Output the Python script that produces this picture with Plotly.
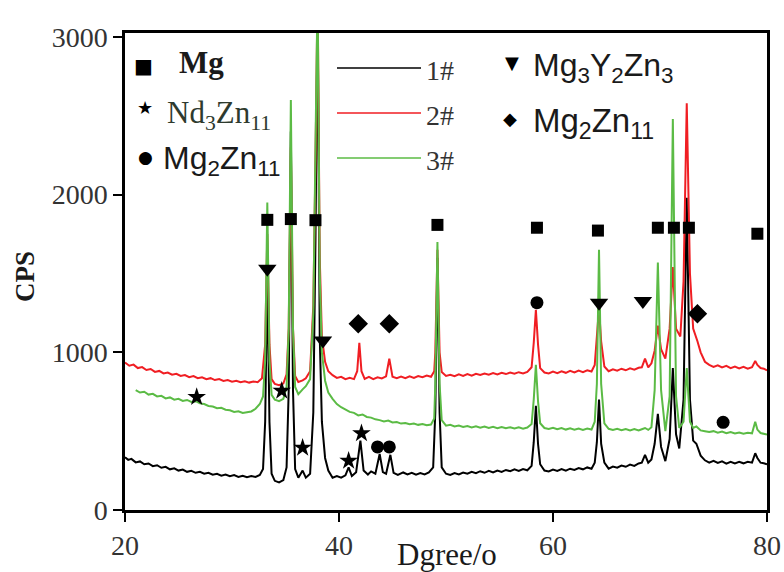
import plotly.graph_objects as go

# ---------------- data ----------------
deg_1 = [20.0,20.3,20.6,21.0,21.4,21.8,22.2,22.6,23.0,23.4,23.8,24.2,24.6,25.0,25.4,25.8,26.2,26.6,27.0,27.4,
         27.8,28.2,28.6,29.0,29.4,29.8,30.2,30.6,31.0,31.4,31.8,32.2,32.6,32.9,33.1,33.3,33.5,33.7,34.0,34.4,
         34.8,35.1,35.3,35.5,35.7,35.9,36.2,36.6,36.9,37.3,37.6,37.8,38.0,38.2,38.4,38.7,39.0,39.4,39.8,40.2,
         40.6,40.9,41.2,41.6,42.0,42.3,42.7,43.0,43.4,43.8,44.1,44.4,44.8,45.1,45.5,46.0,46.4,46.8,47.2,47.6,
         48.0,48.4,48.8,49.0,49.2,49.4,49.6,50.0,50.4,50.8,51.2,51.6,52.0,52.4,52.8,53.2,53.6,54.0,54.4,54.8,
         55.2,55.6,56.0,56.4,56.8,57.2,57.6,58.0,58.2,58.4,58.6,58.8,59.2,59.6,60.0,60.4,60.8,61.2,61.6,62.0,
         62.4,62.8,63.2,63.6,63.9,64.1,64.3,64.5,64.8,65.2,65.6,66.0,66.4,66.8,67.2,67.6,68.0,68.3,68.6,68.9,
         69.2,69.5,69.8,70.1,70.5,70.9,71.2,71.5,71.8,72.2,72.5,72.8,73.1,73.4,73.8,74.2,74.6,75.0,75.4,75.8,
         76.2,76.6,77.0,77.4,77.8,78.2,78.6,78.9,79.1,79.4,79.7,80.0]
cps_1 = [335,318,324,302,308,290,295,278,284,268,274,258,264,250,256,242,248,236,242,230,
         236,224,230,218,225,214,221,210,217,208,215,210,222,260,560,1500,560,230,185,175,
         190,270,760,2400,760,260,205,250,205,230,620,1700,3200,1100,560,330,250,205,215,205,
         220,270,215,240,440,250,225,245,230,355,240,230,350,235,222,238,226,236,224,234,
         226,238,270,620,1600,620,270,230,222,234,226,238,230,242,234,246,236,248,238,250,
         242,254,246,258,248,260,252,280,430,660,420,290,250,244,256,248,260,250,262,254,
         266,258,270,262,300,430,700,420,300,262,275,268,282,274,288,280,295,300,350,300,
         320,420,610,400,310,450,900,480,390,700,1980,700,440,420,345,315,300,312,298,308,
         294,306,295,305,296,306,300,360,330,300,296,290]

deg_2 = [20.0,20.4,20.8,21.2,21.6,22.0,22.4,22.8,23.2,23.6,24.0,24.4,24.8,25.2,25.6,26.0,26.4,26.8,27.2,27.6,
         28.0,28.4,28.8,29.2,29.6,30.0,30.4,30.8,31.2,31.6,32.0,32.4,32.8,33.1,33.3,33.5,33.7,34.0,34.4,34.8,
         35.1,35.3,35.5,35.7,35.9,36.2,36.6,36.9,37.3,37.6,37.8,38.0,38.2,38.4,38.7,39.0,39.4,39.8,40.2,40.6,
         41.0,41.4,41.7,41.9,42.1,42.4,42.8,43.2,43.6,44.0,44.4,44.7,45.0,45.4,45.8,46.2,46.6,47.0,47.4,47.8,
         48.2,48.6,48.9,49.0,49.2,49.4,49.6,50.0,50.4,50.8,51.2,51.6,52.0,52.4,52.8,53.2,53.6,54.0,54.4,54.8,
         55.2,55.6,56.0,56.4,56.8,57.2,57.6,58.0,58.2,58.4,58.6,58.8,59.2,59.6,60.0,60.4,60.8,61.2,61.6,62.0,
         62.4,62.8,63.2,63.6,63.9,64.1,64.3,64.5,64.8,65.2,65.6,66.0,66.4,66.8,67.2,67.6,68.0,68.3,68.6,68.9,
         69.2,69.5,69.8,70.1,70.5,70.9,71.2,71.5,71.9,72.2,72.5,72.8,73.1,73.5,73.8,74.2,74.6,75.0,75.4,75.8,
         76.2,76.6,77.0,77.4,77.8,78.2,78.6,78.9,79.1,79.4,79.7,80.0]
cps_2 = [935,915,922,900,906,888,894,876,882,866,872,858,864,850,856,842,849,836,842,830,
         836,824,830,818,824,814,820,810,816,808,815,810,835,1050,1750,1050,830,800,792,802,
         860,1150,2300,1150,850,812,822,835,880,1300,2200,3300,1600,1100,940,880,855,838,845,830,
         838,830,880,1060,880,832,845,830,842,834,848,960,845,836,846,836,848,838,850,842,
         852,845,880,1000,1650,1000,875,850,858,848,860,850,862,852,864,856,866,858,868,860,
         870,862,872,864,874,866,876,905,1060,1270,1050,900,872,866,878,868,880,870,882,872,
         884,874,886,878,920,1080,1280,1070,910,880,892,884,896,886,898,890,902,905,960,905,
         930,1010,1170,1020,960,1150,1540,1150,1100,1450,2580,1500,1150,1070,1000,940,920,908,918,904,
         914,900,910,898,908,896,906,945,920,900,896,885]

deg_3 = [21.0,21.4,21.8,22.2,22.6,23.0,23.4,23.8,24.2,24.6,25.0,25.4,25.8,26.2,26.6,27.0,27.4,27.8,28.2,28.6,
         29.0,29.4,29.8,30.2,30.6,31.0,31.4,31.8,32.2,32.6,32.9,33.1,33.3,33.5,33.7,34.0,34.4,34.8,35.1,35.3,
         35.5,35.7,35.9,36.2,36.6,36.9,37.3,37.6,37.8,38.0,38.2,38.4,38.7,39.0,39.4,39.8,40.2,40.6,41.0,41.4,
         41.8,42.2,42.6,43.0,43.4,43.8,44.2,44.6,45.0,45.4,45.8,46.2,46.6,47.0,47.4,47.8,48.2,48.6,48.9,49.0,
         49.2,49.4,49.6,50.0,50.4,50.8,51.2,51.6,52.0,52.4,52.8,53.2,53.6,54.0,54.4,54.8,55.2,55.6,56.0,56.4,
         56.8,57.2,57.6,58.0,58.2,58.4,58.6,58.8,59.2,59.6,60.0,60.4,60.8,61.2,61.6,62.0,62.4,62.8,63.2,63.6,
         63.9,64.1,64.3,64.5,64.8,65.2,65.6,66.0,66.4,66.8,67.2,67.6,68.0,68.3,68.6,68.9,69.2,69.5,69.8,70.1,
         70.5,70.9,71.2,71.5,71.8,72.2,72.5,72.8,73.1,73.4,73.8,74.2,74.6,75.0,75.4,75.8,76.2,76.6,77.0,77.4,
         77.8,78.2,78.6,78.9,79.1,79.4,79.7,80.0]
cps_3 = [760,745,750,732,737,720,724,708,714,700,705,692,698,685,690,676,672,660,656,645,
         648,636,632,622,626,615,620,625,642,672,720,950,1950,950,730,700,690,705,780,1150,
         2600,1150,780,735,765,785,830,1250,2300,3300,1500,1000,820,745,705,672,652,636,622,616,
         600,606,590,586,575,570,562,567,555,558,548,552,544,548,540,545,537,542,580,800,
         1700,800,570,535,540,530,536,526,533,524,531,522,529,520,527,519,526,518,525,517,
         524,516,523,545,700,920,690,550,520,514,522,512,520,510,518,509,517,508,516,510,
         560,800,1650,800,550,515,508,515,506,514,505,513,504,512,520,508,525,760,1570,760,
         500,720,2480,720,520,560,900,560,520,530,505,500,494,500,490,497,487,494,485,492,
         484,490,486,560,510,488,482,478]

# phase markers
mg_deg = [33.3, 35.5, 37.8, 49.2, 58.5, 64.2, 69.8, 71.3, 72.7, 79.1]
mg_cps = [1840, 1845, 1838, 1808, 1790, 1772, 1790, 1790, 1790, 1752]
nd3zn11_deg = [26.7, 34.65, 36.6, 40.9, 42.1]
nd3zn11_cps = [716, 756, 395, 312, 486]
mg2zn11_c_deg = [43.6, 44.7, 58.5, 75.9]
mg2zn11_c_cps = [400, 400, 1315, 556]
mg3y2zn3_deg = [33.3, 38.5, 64.3, 68.4]
mg3y2zn3_cps = [1530, 1075, 1315, 1325]
mg2zn11_d_deg = [41.8, 44.7, 73.5]
mg2zn11_d_cps = [1181, 1181, 1244]

x_ticks = [20, 40, 60, 80]
y_ticks = [0, 1000, 2000, 3000]

# ---------------- figure ----------------
W, H = 784, 572
L, R, T, B = 125, 17, 33, 62
PW, PH = W - L - R, H - T - B


def fx(p):
    return (p - L) / PW


def fy(p):
    return (H - B - p) / PH


SERIF = "Liberation Serif"
SANS = "Liberation Sans"
BLACK, RED, GREEN = "#000000", "#f01e23", "#5bbb45"

fig = go.Figure()
for xs, ys, col, nm in [(deg_1, cps_1, BLACK, "1#"), (deg_2, cps_2, RED, "2#"), (deg_3, cps_3, GREEN, "3#")]:
    fig.add_trace(go.Scatter(x=xs, y=ys, mode="lines", name=nm,
                             line=dict(color=col, width=2), showlegend=False))

for xs, ys, sym, sz in [(mg_deg, mg_cps, "square", 12),
                        (nd3zn11_deg, nd3zn11_cps, "star", 14),
                        (mg2zn11_c_deg, mg2zn11_c_cps, "circle", 13),
                        (mg3y2zn3_deg, mg3y2zn3_cps, "triangle-down", 16),
                        (mg2zn11_d_deg, mg2zn11_d_cps, "diamond", 15)]:
    fig.add_trace(go.Scatter(x=xs, y=ys, mode="markers", showlegend=False,
                             marker=dict(symbol=sym, size=sz, color="black", line=dict(width=0))))

ann = []
shapes = []


def glyph(ch, xp, yp, size):
    ann.append(dict(text=ch, x=fx(xp), y=fy(yp), xref="paper", yref="paper", showarrow=False,
                    xanchor="center", yanchor="middle", font=dict(family="DejaVu Sans", size=size, color="black")))


def label(txt, xp, yp, family, size, color="#1a1a1a"):
    ann.append(dict(text=txt, x=fx(xp), y=fy(yp), xref="paper", yref="paper", showarrow=False,
                    xanchor="left", yanchor="middle", font=dict(family=family, size=size, color=color)))


# left legend block
glyph("■", 143, 66, 20)
label("<b>Mg</b>", 177, 63, SERIF, 31)
glyph("★", 145, 108, 18)
label("Nd<sub>3</sub>Zn<sub>11</sub>", 165, 115, SERIF, 31, "#2e3a2e")
glyph("●", 145, 157, 17)
label("Mg<sub>2</sub>Zn<sub>11</sub>", 161, 160, SANS, 32)

# line legend
for yp, col, nm in [(68, BLACK, "1#"), (113, RED, "2#"), (158, GREEN, "3#")]:
    shapes.append(dict(type="line", xref="paper", yref="paper", x0=fx(337), x1=fx(421), y0=fy(yp), y1=fy(yp),
                       line=dict(color=col, width=1.5)))
    label(nm, 424, yp + 2, SERIF, 28, "#333333")

# right legend block
glyph("▼", 512, 63, 18)
label("Mg<sub>3</sub>Y<sub>2</sub>Zn<sub>3</sub>", 531, 68, SANS, 32)
glyph("◆", 510, 118, 18)
label("Mg<sub>2</sub>Zn<sub>11</sub>", 531, 123, SANS, 33)

# axis titles
ann.append(dict(text="<b>CPS</b>", x=fx(25), y=fy(277), xref="paper", yref="paper", showarrow=False,
                textangle=-90, xanchor="center", yanchor="middle",
                font=dict(family=SERIF, size=27, color="#1a1a1a")))
ann.append(dict(text="Dgree/o", x=fx(447), y=fy(554), xref="paper", yref="paper", showarrow=False,
                xanchor="center", yanchor="middle",
                font=dict(family=SERIF, size=31, color="#1a1a1a")))

axis_common = dict(showgrid=False, zeroline=False, showline=True, linecolor="black", linewidth=2.5,
                   mirror=True, ticks="outside", ticklen=9, tickwidth=2, tickcolor="black",
                   automargin=False,
                   tickfont=dict(family=SERIF, size=28, color="#333333"))
fig.update_layout(
    width=W, height=H,
    margin=dict(l=L, r=R, t=T, b=B),
    font=dict(family=SERIF, color="#333333"),
    paper_bgcolor="white", plot_bgcolor="white",
    xaxis=dict(range=[20, 80], tickvals=x_ticks, ticktext=[str(v) for v in x_ticks], **axis_common),
    yaxis=dict(range=[0, 3025], tickvals=y_ticks, ticktext=[str(v) for v in y_ticks], **axis_common),
    annotations=ann, shapes=shapes, showlegend=False,
)

fig.write_html("out.html", config={"displayModeBar": False},
               post_script="document.body.style.margin='0';document.body.style.overflow='hidden';")
